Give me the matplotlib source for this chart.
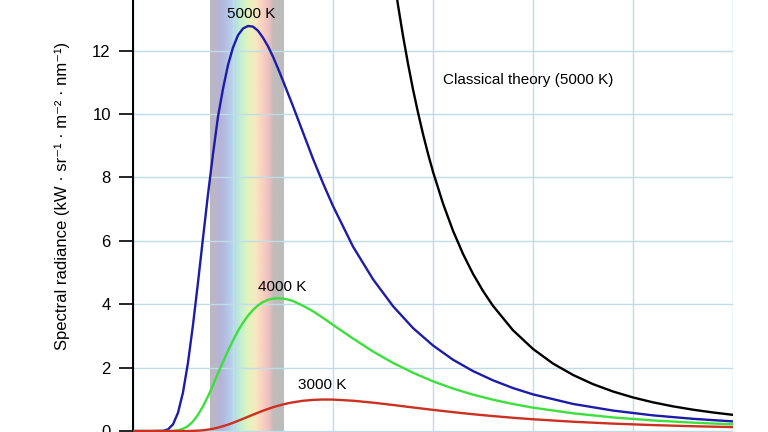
import numpy as np
import matplotlib
matplotlib.use("Agg")
import matplotlib.pyplot as plt
from matplotlib.colors import LinearSegmentedColormap

plt.rcParams['font.family'] = ['Liberation Sans', 'DejaVu Sans']

wl = [0, 100, 150, 175, 200, 225, 250, 275, 300, 325, 350, 375, 400, 425, 450, 475, 500, 525, 550, 575,
      600, 625, 650, 675, 700, 725, 750, 775, 800, 850, 900, 950, 1000,
      1100, 1200, 1300, 1400, 1500, 1600, 1700, 1800, 1900, 2000, 2200, 2400, 2600, 2800, 3000]
t5000 = [0.0, 0.0, 0.0075, 0.053, 0.21, 0.577, 1.22, 2.16, 3.35, 4.69, 6.09, 7.47, 8.74, 9.92, 10.80, 11.55, 12.10, 12.49, 12.70, 12.78,
         12.76, 12.63, 12.41, 12.14, 11.81, 11.44, 11.05, 10.65, 10.25, 9.42, 8.59, 7.82, 7.10,
         5.82, 4.79, 3.94, 3.25, 2.70, 2.25, 1.892, 1.60, 1.356, 1.157, 0.856, 0.646, 0.495, 0.386, 0.304]
t4000 = [0.0, 0.0, 0.0, 0.0, 0.006, 0.023, 0.069, 0.158, 0.304, 0.513, 0.78, 1.096, 1.445, 1.822, 2.18, 2.534, 2.86, 3.163, 3.42, 3.64,
         3.82, 3.966, 4.07, 4.142, 4.18, 4.188, 4.18, 4.148, 4.10, 3.953, 3.78, 3.571, 3.35,
         2.92, 2.51, 2.15, 1.84, 1.568, 1.341, 1.149, 0.989, 0.853, 0.738, 0.560, 0.430, 0.335, 0.265, 0.2115]
t3000 = [0.0, 0.0, 0.0, 0.0, 0.0, 0.0, 0.0, 0.0005, 0.0056, 0.0128, 0.025, 0.045, 0.072, 0.1085, 0.152, 0.203, 0.260, 0.322, 0.386, 0.451,
         0.517, 0.580, 0.642, 0.698, 0.751, 0.797, 0.839, 0.876, 0.907, 0.955, 0.983, 0.995, 0.9925,
         0.957, 0.896, 0.823, 0.744, 0.668, 0.597, 0.531, 0.472, 0.419, 0.372, 0.294, 0.2346, 0.188, 0.152, 0.124]
wl_classic = [1200, 1225, 1250, 1275, 1300, 1325, 1350, 1375, 1400, 1425, 1450, 1475, 1500, 1550, 1600, 1650,
              1700, 1750, 1800, 1900, 2000, 2100, 2200, 2300, 2400, 2500, 2600, 2700, 2800, 2900, 3000]
classic = [19.97, 18.39, 16.97, 15.67, 14.50, 13.44, 12.47, 11.59, 10.78, 10.05, 9.37, 8.75, 8.18, 7.18, 6.32, 5.59,
           4.96, 4.42, 3.95, 3.18, 2.59, 2.13, 1.77, 1.48, 1.248, 1.06, 0.906, 0.779, 0.674, 0.586, 0.511]

fig = plt.figure(figsize=(7.68, 4.32), dpi=100)
ax = fig.add_axes([133/768, 0, 600/768, 1])
ax.set_xlim(0, 3000)
ax.set_ylim(-0.03, 13.6)

# visible band
band = LinearSegmentedColormap.from_list("vis", [
    (0.0, "#b9b8bf"), (0.06, "#bcb6c8"), (0.16, "#b4b4dc"), (0.30, "#b4d4ec"),
    (0.42, "#c4f0d0"), (0.52, "#e4f4bc"), (0.62, "#f8e8c0"), (0.72, "#f8cfc0"),
    (0.80, "#ecc0c0"), (0.86, "#c0bcbc"), (1.0, "#bcbcbc")])
ax.imshow(np.linspace(0, 1, 256)[None, :], cmap=band, aspect='auto',
          extent=[385, 755, -0.03, 13.6], zorder=0)

ax.set_xticks(range(0, 3001, 500))
ax.set_yticks(range(0, 14, 2))
ax.grid(True, color="#bfdde8", linewidth=1.0, zorder=0.5)
ax.set_axisbelow(True)

ax.plot(wl, t5000, color="#1c1ca8", lw=1.7, zorder=3)
ax.plot(wl, t4000, color="#3ce03c", lw=1.7, zorder=3)
ax.plot(wl, t3000, color="#cc3020", lw=1.7, zorder=3)
ax.plot(wl_classic, classic, color="black", lw=1.7, zorder=3)

ax.text(590, 13.15, "5000 K", ha="center", va="center", fontsize=11)
ax.text(745, 4.54, "4000 K", ha="center", va="center", fontsize=11)
ax.text(945, 1.45, "3000 K", ha="center", va="center", fontsize=11)
ax.text(1550, 11.07, "Classical theory (5000 K)", ha="left", va="center", fontsize=11)

for s in ["top", "right", "bottom"]:
    ax.spines[s].set_visible(False)
ax.spines["left"].set_linewidth(1.5)
ax.tick_params(axis="y", direction="out", length=10, width=1.2, labelsize=12, pad=6)
ax.tick_params(axis="x", length=0, labelbottom=False)
ax.set_ylabel("Spectral radiance (kW · sr⁻¹ · m⁻² · nm⁻¹)", fontsize=12, va="center")
ax.yaxis.set_label_coords(-0.118, 0.546)

fig.savefig("out.png", dpi=100)
